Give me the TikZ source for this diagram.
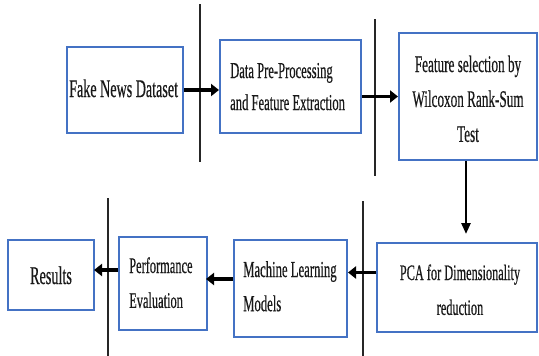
\documentclass[tikz,border=0pt]{standalone}
\usepackage{fontspec}
\usepackage{graphicx}
\usetikzlibrary{arrows.meta,calc}
\setmainfont[FakeBold=0.6]{Liberation Serif}
\definecolor{boxblue}{HTML}{4472C4}
\tikzset{
  box/.style={draw=boxblue,line width=2pt,fill=white,inner sep=0pt},
  lbl/.style={inner sep=0pt,text=black!90},
  flow/.style={line width=3.5pt,-{Triangle[length=8pt,width=12pt]}},
  drop/.style={line width=2.5pt,-{Triangle[length=11pt,width=9pt]}},
  divider/.style={line width=1.2pt,black!85},
}
% tall, narrow lettering: #1 column alignment, #2 font size, #3 line skip, #4 text
\newcommand{\tallbox}[4]{{\fontsize{#2}{#3}\selectfont
  \scalebox{1}[1.8]{\begin{tabular}[t]{@{}#1@{}}#4\end{tabular}}}}
\begin{document}
\begin{tikzpicture}[x=1pt,y=-1pt]
\useasboundingbox[fill=white] (0,0) rectangle (539,356);

% stage dividers
\draw[divider] (200,4) -- (200,162);
\draw[divider] (375,19) -- (375,176);
\draw[divider] (363,201) -- (363,356);
\draw[divider] (108,198) -- (108,356);

% boxes
\node[box,minimum width=116pt,minimum height=86pt] (b1) at (125,90) {};
\node[box,minimum width=141pt,minimum height=93pt] (b2) at (290.5,86.5) {};
\node[box,minimum width=138pt,minimum height=127pt] (b3) at (468,96.5) {};
\node[box,minimum width=160pt,minimum height=89pt] (b4) at (457,287.5) {};
\node[box,minimum width=113pt,minimum height=97pt] (b5) at (290.5,288.5) {};
\node[box,minimum width=88pt,minimum height=93pt] (b6) at (163,283.5) {};
\node[box,minimum width=86pt,minimum height=70pt] (b7) at (51,275) {};

% labels (anchored on the baseline of their first line)
\node[lbl,anchor=base west] (t1) at (69,97) {\tallbox{l}{14.1}{18}{Fake News Dataset}};
\node[lbl,anchor=base west] (t2) at (230,78)
  {\tallbox{l}{12.6}{17.8}{Data Pre-Processing\\and Feature Extraction}};
\node[lbl,anchor=base] (t3) at (468,72)
  {\tallbox{c}{13.2}{19.4}{Feature selection by\\Wilcoxon Rank-Sum\\Test}};
\node[lbl,anchor=base] (t4) at (460,280)
  {\tallbox{c}{12.3}{19.4}{PCA for Dimensionality\\reduction}};
\node[lbl,anchor=base west] (t5) at (243,277)
  {\tallbox{l}{12.7}{19}{Machine Learning\\Models}};
\node[lbl,anchor=base west] (t6) at (129,273)
  {\tallbox{l}{12.4}{19.4}{Performance\\Evaluation}};
\node[lbl,anchor=base] (t7) at (51,284) {\tallbox{c}{14.2}{18}{Results}};

% connectors
\draw[flow] (b1.east) -- (b1.east -| b2.west);
\draw[flow] (b2.east |- b3.west) -- (b3.west);
\draw[drop] ($(b3.south)+(-2,0)$) -- ($(b3.south |- b4.north)+(-2,-8)$);
\draw[flow] ($(b4.west)+(0,-15)$) -- ($(b4.west -| b5.east)+(0,-15)$);
\draw[flow] ($(b5.west)+(0,-9.5)$) -- ($(b5.west -| b6.east)+(-2,-9.5)$);
\draw[flow] ($(b6.west)+(0,-13.5)$) -- ($(b6.west -| b7.east)+(-1,-13.5)$);
\end{tikzpicture}
\end{document}
